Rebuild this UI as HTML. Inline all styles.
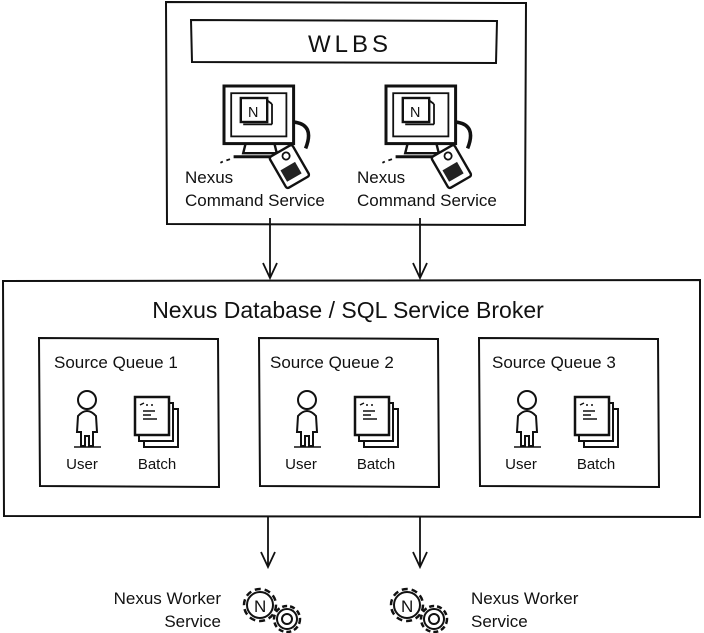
<!DOCTYPE html>
<html><head><meta charset="utf-8"><style>
html,body{margin:0;padding:0;background:#fff;}
svg{display:block;}
text{font-family:"Liberation Sans","DejaVu Sans",sans-serif;fill:#111;}
</style></head><body>
<svg width="704" height="633" viewBox="0 0 704 633" xmlns="http://www.w3.org/2000/svg">
<defs>
<g id="mon">
  <rect x="0" y="0" width="58" height="48" fill="#fff" stroke="#111" stroke-width="2.5"/>
  <rect x="6" y="6" width="46" height="36" fill="none" stroke="#111" stroke-width="1.5"/>
  <rect x="14" y="10" width="22" height="20" fill="#fff" stroke="#111" stroke-width="2"/>
  <line x1="36" y1="12" x2="40" y2="15" stroke="#111" stroke-width="1.5"/>
  <line x1="40" y1="15" x2="40" y2="32" stroke="#111" stroke-width="1.5"/>
  <line x1="16" y1="32" x2="40" y2="32" stroke="#111" stroke-width="1.5"/>
  <text x="20" y="26" font-size="12" style="fill:#111">N</text>
  <path d="M18 48 L16 56 L44 56 L42 48" fill="none" stroke="#111" stroke-width="2"/>
  <path d="M8 59 L48 59" stroke="#111" stroke-width="2.5"/>
  <path d="M2 62 l3 -1 M-3 64 l2 -1" stroke="#111" stroke-width="1.5"/>
  <path d="M58 30 Q76 32 68 52" fill="none" stroke="#111" stroke-width="3"/>
  <g transform="rotate(-30 55 68)">
    <rect x="44" y="52" width="22" height="30" rx="2" fill="#fff" stroke="#111" stroke-width="2"/>
    <circle cx="57" cy="58" r="3" fill="none" stroke="#111" stroke-width="1.5"/>
    <rect x="47" y="66" width="14" height="11" fill="#222"/>
  </g>
</g>
<g id="user">
  <circle cx="12" cy="10" r="9" fill="#fff" stroke="#111" stroke-width="2"/>
  <path d="M3 26 Q12 16 21 26 L22 42 L18 42 L18 56 L14 56 L14 46 L10 46 L10 56 L6 56 L6 42 L2 42 Z" fill="#fff" stroke="#111" stroke-width="2"/>
  <path d="M-1 57 L26 57" stroke="#111" stroke-width="1.5"/>
</g>
<g id="batch">
  <rect x="9" y="12" width="34" height="38" fill="#fff" stroke="#111" stroke-width="2"/>
  <rect x="4" y="6" width="34" height="38" fill="#fff" stroke="#111" stroke-width="2"/>
  <rect x="0" y="0" width="34" height="38" fill="#fff" stroke="#111" stroke-width="2.5"/>
  <path d="M5 8 l4 -2 M11 8 h2 M16 8 h2 M8 14 h12 M8 18 h8 M8 22 h14" stroke="#111" stroke-width="1.5"/>
</g>
<g id="gears">
  <circle cx="20" cy="18" r="16" fill="#fff" stroke="#111" stroke-width="2.5" stroke-dasharray="6 4"/>
  <circle cx="20" cy="18" r="13" fill="#fff" stroke="#111" stroke-width="2"/>
  <text x="14" y="25" font-size="17" style="fill:#111">N</text>
  <circle cx="47" cy="32" r="13" fill="#fff" stroke="#111" stroke-width="2.5" stroke-dasharray="5 3"/>
  <circle cx="47" cy="32" r="10" fill="#fff" stroke="#111" stroke-width="2"/>
  <circle cx="47" cy="32" r="5" fill="#fff" stroke="#111" stroke-width="2"/>
</g>
</defs>

<!-- top box -->
<path d="M166 2 L526 3 L525 225 L167 224 Z" fill="none" stroke="#111" stroke-width="2"/>
<path d="M191 20 L497 21 L496 63 L192 62 Z" fill="none" stroke="#111" stroke-width="2"/>
<text x="350" y="52" font-size="24" text-anchor="middle" letter-spacing="4">WLBS</text>
<use href="#mon" transform="translate(224 86) scale(1.2)"/>
<use href="#mon" transform="translate(386 86) scale(1.2)"/>
<text x="185" y="183" font-size="17">Nexus</text>
<text x="185" y="206" font-size="17">Command Service</text>
<text x="357" y="183" font-size="17">Nexus</text>
<text x="357" y="206" font-size="17">Command Service</text>

<g stroke="#111" stroke-width="1.8" fill="none">
<path d="M270 218 V277 M263 263 L270 278 L277 263"/>
<path d="M420 218 V277 M413 263 L420 278 L427 263"/>
<path d="M268 517 V566 M261 552 L268 567 L275 552"/>
<path d="M420 517 V566 M413 552 L420 567 L427 552"/>
</g>

<!-- big box -->
<path d="M3 281 L700 280 L700 517 L4 516 Z" fill="none" stroke="#111" stroke-width="2"/>
<text x="348" y="318" font-size="23" text-anchor="middle">Nexus Database / SQL Service Broker</text>

<path d="M39 338 L218 339 L219 487 L40 486 Z" fill="none" stroke="#111" stroke-width="2"/>
<path d="M259 338 L438 339 L439 487 L260 486 Z" fill="none" stroke="#111" stroke-width="2"/>
<path d="M479 338 L658 339 L659 487 L480 486 Z" fill="none" stroke="#111" stroke-width="2"/>

<text x="54" y="368" font-size="17">Source Queue 1</text>
<text x="270" y="368" font-size="17">Source Queue 2</text>
<text x="492" y="368" font-size="17">Source Queue 3</text>

<use href="#user" x="75" y="390"/>
<use href="#batch" x="135" y="397"/>
<use href="#user" x="295" y="390"/>
<use href="#batch" x="355" y="397"/>
<use href="#user" x="515" y="390"/>
<use href="#batch" x="575" y="397"/>

<text x="82" y="469" font-size="15" text-anchor="middle">User</text>
<text x="157" y="469" font-size="15" text-anchor="middle">Batch</text>
<text x="301" y="469" font-size="15" text-anchor="middle">User</text>
<text x="376" y="469" font-size="15" text-anchor="middle">Batch</text>
<text x="521" y="469" font-size="15" text-anchor="middle">User</text>
<text x="596" y="469" font-size="15" text-anchor="middle">Batch</text>

<use href="#gears" x="240" y="587"/>
<use href="#gears" x="387" y="587"/>
<text x="221" y="604" font-size="17" text-anchor="end">Nexus Worker</text>
<text x="221" y="627" font-size="17" text-anchor="end">Service</text>
<text x="471" y="604" font-size="17">Nexus Worker</text>
<text x="471" y="627" font-size="17">Service</text>
</svg>
</body></html>
